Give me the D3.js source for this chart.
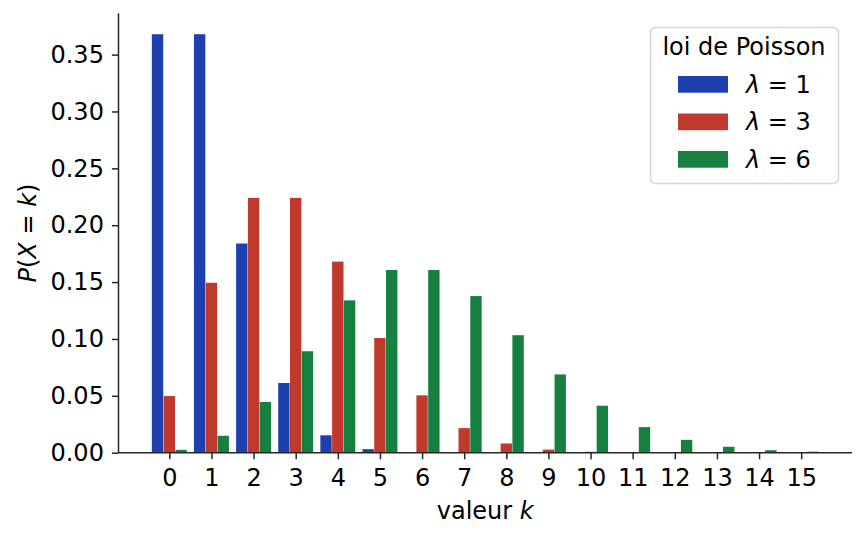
<!DOCTYPE html>
<html>
<head>
<meta charset="utf-8">
<script src="https://cdn.jsdelivr.net/npm/d3@7"></script>
<style>
  body { margin: 0; background: #fff; }
  svg { display: block; font-family: "DejaVu Sans", sans-serif; }
</style>
</head>
<body>
<svg id="chart" width="866" height="541"></svg>
<script>
const KS = [0, 1, 2, 3, 4, 5, 6, 7, 8, 9, 10, 11, 12, 13, 14, 15];
const LAMBDAS = [1, 3, 6];
const P_L1 = [0.3679, 0.3679, 0.1839, 0.0613, 0.0153, 0.0031, 0.0005, 0.0001, 0, 0, 0, 0, 0, 0, 0, 0];
const P_L3 = [0.0498, 0.1494, 0.2240, 0.2240, 0.1680, 0.1008, 0.0504, 0.0216, 0.0081, 0.0027, 0.0008, 0.0002, 0.0001, 0, 0, 0];
const P_L6 = [0.0025, 0.0149, 0.0446, 0.0892, 0.1339, 0.1606, 0.1606, 0.1377, 0.1033, 0.0688, 0.0413, 0.0225, 0.0113, 0.0052, 0.0022, 0.0009];
const Y_TICKS = [0, 0.05, 0.10, 0.15, 0.20, 0.25, 0.30, 0.35];
const COLORS = ["#1e40ae", "#c0392d", "#158040"];

const series = [P_L1, P_L3, P_L6];
const OFFSETS = [-0.28, 0, 0.28];
const BAR_W = 0.27;

const AX = { left: 118.5, right: 852, top: 13.3, bottom: 452.7 };
const FS = 24;
const INK = "#262626";

const svg = d3.select("#chart");

// xlim like matplotlib: data extent plus 5% margins
const lo = -0.28 - BAR_W / 2, hi = 15.28 + BAR_W / 2;
const pad = (hi - lo) * 0.05;
const x = d3.scaleLinear().domain([lo - pad, hi + pad]).range([AX.left, AX.right]);
const y = d3.scaleLinear().domain([0, 0.3679 * 1.05]).range([AX.bottom, AX.top]);

// bars
series.forEach((vals, si) => {
  svg.append("g")
    .selectAll("rect")
    .data(KS)
    .enter().append("rect")
    .attr("x", k => x(k + OFFSETS[si] - BAR_W / 2))
    .attr("width", x(BAR_W) - x(0))
    .attr("y", (k, i) => y(vals[i]))
    .attr("height", (k, i) => y(0) - y(vals[i]))
    .style("fill", COLORS[si]);
});

// axes
const xAxis = svg.append("g")
  .attr("transform", "translate(0," + AX.bottom + ")")
  .call(d3.axisBottom(x).tickValues(KS).tickFormat(d3.format("d")).tickSize(6.6).tickPadding(10));
const yAxis = svg.append("g")
  .attr("transform", "translate(" + AX.left + ",0)")
  .call(d3.axisLeft(y).tickValues(Y_TICKS).tickFormat(d3.format(".2f")).tickSize(6.6).tickPadding(8));

[xAxis, yAxis].forEach(g => {
  g.select(".domain").attr("stroke", INK).attr("stroke-width", 1.5);
  g.selectAll(".tick line").attr("stroke", INK).attr("stroke-width", 1.5);
  g.selectAll(".tick text")
    .attr("fill", "#000")
    .style("font-size", FS + "px")
    .style("font-family", "DejaVu Sans");
});
xAxis.select(".domain").attr("d", "M" + AX.left + ",0H" + AX.right);
yAxis.select(".domain").attr("d", "M0," + AX.top + "V" + AX.bottom);

// axis labels
const xl = svg.append("text")
  .attr("x", (AX.left + AX.right) / 2)
  .attr("y", 518.5)
  .attr("text-anchor", "middle")
  .style("font-size", FS + "px");
xl.append("tspan").text("valeur ");
xl.append("tspan").style("font-style", "italic").text("k");

const yl = svg.append("text")
  .attr("transform", "translate(36," + (AX.top + AX.bottom) / 2 + ") rotate(-90)")
  .attr("text-anchor", "middle")
  .style("font-size", FS + "px");
yl.append("tspan").style("font-style", "italic").text("P");
yl.append("tspan").text("(");
yl.append("tspan").style("font-style", "italic").text("X");
yl.append("tspan").text(" = ");
yl.append("tspan").style("font-style", "italic").text("k");
yl.append("tspan").text(")");

// legend
const lg = svg.append("g");
lg.append("rect")
  .attr("x", 650.5).attr("y", 27.5)
  .attr("width", 188).attr("height", 156)
  .attr("rx", 5)
  .style("fill", "#fff").style("fill-opacity", 0.8)
  .style("stroke", "#d6d6d6").style("stroke-width", 1.5);
lg.append("text")
  .attr("x", 744).attr("y", 55)
  .attr("text-anchor", "middle")
  .style("font-size", FS + "px")
  .text("loi de Poisson");
LAMBDAS.forEach((lam, i) => {
  const yy = 76 + i * 37.5;
  lg.append("rect")
    .attr("x", 678).attr("y", yy)
    .attr("width", 50).attr("height", 16.7)
    .style("fill", COLORS[i]);
  const t = lg.append("text")
    .attr("x", 746).attr("y", yy + 16.5)
    .style("font-size", FS + "px");
  t.append("tspan").style("font-style", "italic").text("λ");
  t.append("tspan").text(" = " + lam);
});
</script>
</body>
</html>
